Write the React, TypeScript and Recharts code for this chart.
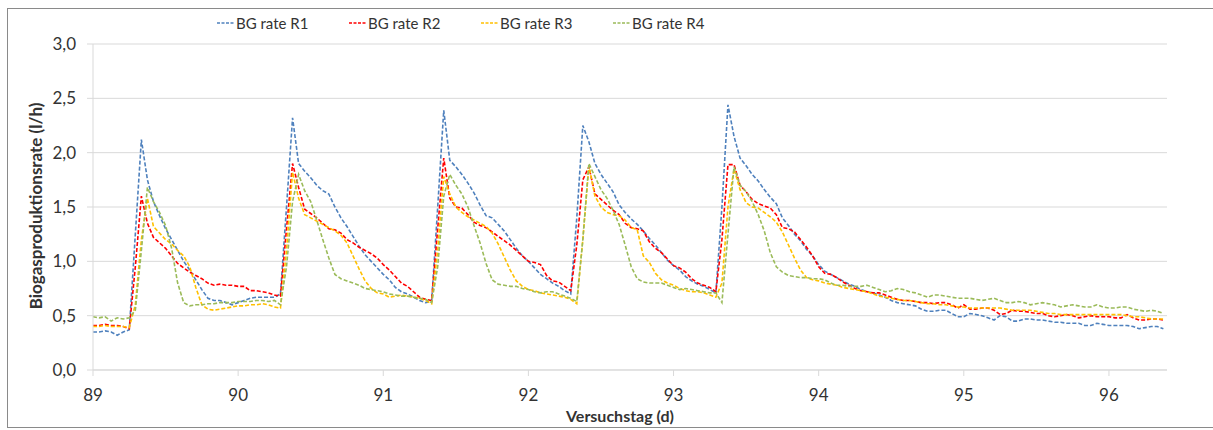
import React from 'react';
import { LineChart, Line, XAxis, YAxis, CartesianGrid } from 'recharts';

const seriesNames = ['BG rate R1', 'BG rate R2', 'BG rate R3', 'BG rate R4'];
const seriesKeys = ['r1', 'r2', 'r3', 'r4'];
const seriesColors = ['#4F81BD', '#FF0000', '#FFC000', '#9BBB59'];
const xTicks = [89, 90, 91, 92, 93, 94, 95, 96];
const yTicks = [0, 0.5, 1, 1.5, 2, 2.5, 3];
const startDay = 89;
const samplesPerDay = 24;
const xTitle = 'Versuchstag (d)';
const yTitle = 'Biogasproduktionsrate (l/h)';

const r1 = [
  0.35, 0.35, 0.36, 0.35, 0.32, 0.35, 0.37, 1.25, 2.12, 1.75,
  1.55, 1.42, 1.30, 1.20, 1.10, 1.00, 0.92, 0.83, 0.74, 0.66,
  0.64, 0.64, 0.62, 0.60, 0.62, 0.64, 0.66, 0.67, 0.67, 0.67,
  0.67, 0.70, 1.50, 2.32, 1.90, 1.83, 1.77, 1.70, 1.65, 1.62,
  1.50, 1.40, 1.32, 1.23, 1.14, 1.06, 1.00, 0.94, 0.88, 0.83,
  0.76, 0.72, 0.70, 0.67, 0.64, 0.62, 0.63, 1.50, 2.39, 1.93,
  1.87, 1.80, 1.72, 1.63, 1.52, 1.42, 1.40, 1.34, 1.28, 1.20,
  1.12, 1.05, 1.00, 0.94, 0.88, 0.84, 0.80, 0.77, 0.73, 0.70,
  1.40, 2.25, 2.10, 1.90, 1.80, 1.72, 1.64, 1.52, 1.45, 1.39,
  1.34, 1.28, 1.21, 1.15, 1.08, 1.01, 0.96, 0.92, 0.86, 0.82,
  0.79, 0.77, 0.74, 0.71, 1.50, 2.44, 2.15, 1.95, 1.88, 1.80,
  1.74, 1.66, 1.59, 1.53, 1.40, 1.33, 1.25, 1.19, 1.11, 1.05,
  0.97, 0.91, 0.88, 0.85, 0.82, 0.79, 0.77, 0.74, 0.72, 0.71,
  0.69, 0.67, 0.64, 0.62, 0.61, 0.60, 0.59, 0.56, 0.54, 0.54,
  0.55, 0.55, 0.52, 0.49, 0.49, 0.52, 0.51, 0.50, 0.48, 0.46,
  0.50, 0.49, 0.45, 0.45, 0.47, 0.47, 0.46, 0.46, 0.45, 0.44,
  0.44, 0.43, 0.43, 0.43, 0.41, 0.41, 0.43, 0.42, 0.41, 0.41,
  0.41, 0.41, 0.40, 0.38, 0.39, 0.40, 0.40, 0.38,
];

const r2 = [
  0.41, 0.41, 0.42, 0.41, 0.41, 0.40, 0.38, 0.95, 1.60, 1.35,
  1.22, 1.17, 1.12, 1.05, 0.98, 0.94, 0.90, 0.87, 0.84, 0.80,
  0.78, 0.79, 0.78, 0.78, 0.77, 0.77, 0.73, 0.73, 0.72, 0.71,
  0.69, 0.68, 1.30, 1.90, 1.68, 1.48, 1.44, 1.40, 1.35, 1.30,
  1.29, 1.26, 1.20, 1.17, 1.13, 1.10, 1.07, 1.03, 0.97, 0.92,
  0.86, 0.80, 0.77, 0.72, 0.67, 0.65, 0.64, 1.30, 1.95, 1.58,
  1.50, 1.49, 1.43, 1.36, 1.33, 1.31, 1.27, 1.23, 1.19, 1.15,
  1.10, 1.05, 1.00, 0.99, 0.97, 0.87, 0.82, 0.81, 0.77, 0.73,
  1.15, 1.75, 1.87, 1.62, 1.57, 1.52, 1.47, 1.43, 1.35, 1.31,
  1.30, 1.28, 1.18, 1.12, 1.08, 1.02, 0.96, 0.94, 0.90, 0.84,
  0.80, 0.78, 0.76, 0.72, 1.20, 1.89, 1.89, 1.70, 1.64, 1.57,
  1.53, 1.51, 1.49, 1.43, 1.31, 1.30, 1.27, 1.20, 1.13, 1.05,
  0.95, 0.89, 0.88, 0.85, 0.81, 0.78, 0.75, 0.73, 0.72, 0.71,
  0.71, 0.69, 0.67, 0.65, 0.64, 0.64, 0.63, 0.62, 0.62, 0.61,
  0.62, 0.62, 0.60, 0.57, 0.60, 0.56, 0.56, 0.57, 0.57, 0.55,
  0.51, 0.52, 0.55, 0.54, 0.54, 0.53, 0.52, 0.52, 0.50, 0.49,
  0.50, 0.51, 0.50, 0.48, 0.49, 0.50, 0.49, 0.49, 0.49, 0.48,
  0.48, 0.51, 0.48, 0.46, 0.46, 0.47, 0.47, 0.46,
];

const r3 = [
  0.40, 0.40, 0.41, 0.40, 0.40, 0.40, 0.39, 0.60, 1.20, 1.58,
  1.32, 1.26, 1.20, 1.16, 1.10, 1.05, 0.95, 0.76, 0.60, 0.56,
  0.55, 0.56, 0.57, 0.58, 0.59, 0.59, 0.60, 0.60, 0.61, 0.60,
  0.58, 0.57, 1.10, 1.82, 1.58, 1.43, 1.40, 1.37, 1.34, 1.31,
  1.28, 1.24, 1.17, 1.05, 0.93, 0.82, 0.75, 0.71, 0.70, 0.67,
  0.68, 0.69, 0.68, 0.67, 0.66, 0.64, 0.61, 1.10, 1.78, 1.62,
  1.50, 1.45, 1.41, 1.38, 1.35, 1.32, 1.26, 1.16, 1.04, 0.92,
  0.82, 0.77, 0.74, 0.73, 0.71, 0.70, 0.69, 0.68, 0.67, 0.65,
  0.61, 1.20, 1.88, 1.60, 1.50, 1.45, 1.43, 1.42, 1.38, 1.31,
  1.29, 1.05, 0.99, 0.89, 0.83, 0.80, 0.78, 0.75, 0.73, 0.72,
  0.72, 0.71, 0.69, 0.67, 0.80, 1.50, 1.85, 1.66, 1.54, 1.50,
  1.49, 1.45, 1.41, 1.36, 1.27, 1.15, 1.03, 0.92, 0.85, 0.83,
  0.82, 0.80, 0.79, 0.78, 0.76, 0.75, 0.74, 0.73, 0.72, 0.70,
  0.68, 0.67, 0.66, 0.65, 0.64, 0.64, 0.63, 0.62, 0.61, 0.61,
  0.60, 0.60, 0.59, 0.58, 0.58, 0.57, 0.57, 0.57, 0.57, 0.57,
  0.57, 0.56, 0.55, 0.55, 0.55, 0.55, 0.54, 0.53, 0.52, 0.52,
  0.51, 0.51, 0.51, 0.51, 0.51, 0.51, 0.51, 0.51, 0.51, 0.51,
  0.51, 0.50, 0.49, 0.49, 0.48, 0.47, 0.47, 0.47,
];

const r4 = [
  0.49, 0.48, 0.49, 0.45, 0.48, 0.47, 0.48, 0.55, 1.10, 1.68,
  1.55, 1.45, 1.33, 1.12, 0.80, 0.62, 0.59, 0.60, 0.60, 0.61,
  0.61, 0.62, 0.62, 0.62, 0.63, 0.63, 0.63, 0.64, 0.64, 0.63,
  0.64, 0.60, 0.95, 1.55, 1.80, 1.65, 1.55, 1.38, 1.20, 1.03,
  0.88, 0.84, 0.82, 0.80, 0.78, 0.75, 0.74, 0.73, 0.72, 0.70,
  0.69, 0.68, 0.68, 0.67, 0.66, 0.65, 0.62, 0.95, 1.60, 1.80,
  1.70, 1.62, 1.50, 1.33, 1.17, 0.98, 0.83, 0.79, 0.78, 0.77,
  0.77, 0.75, 0.74, 0.72, 0.71, 0.72, 0.72, 0.70, 0.68, 0.66,
  0.63, 1.20, 1.90, 1.78, 1.66, 1.58, 1.47, 1.34, 1.15, 0.95,
  0.84, 0.81, 0.80, 0.80, 0.80, 0.78, 0.76, 0.74, 0.75, 0.74,
  0.73, 0.72, 0.71, 0.71, 0.62, 1.25, 1.87, 1.70, 1.64, 1.55,
  1.43, 1.28, 1.08, 0.95, 0.90, 0.87, 0.86, 0.85, 0.85, 0.84,
  0.84, 0.83, 0.80, 0.78, 0.78, 0.77, 0.77, 0.77, 0.78, 0.76,
  0.74, 0.72, 0.73, 0.75, 0.74, 0.72, 0.71, 0.69, 0.67, 0.69,
  0.69, 0.68, 0.67, 0.66, 0.66, 0.66, 0.65, 0.64, 0.65, 0.66,
  0.64, 0.62, 0.62, 0.63, 0.62, 0.60, 0.61, 0.62, 0.61, 0.60,
  0.58, 0.59, 0.60, 0.59, 0.58, 0.58, 0.60, 0.58, 0.57, 0.57,
  0.58, 0.58, 0.56, 0.55, 0.54, 0.55, 0.54, 0.52,
];

const FONT = "Lato, 'Noto Sans', sans-serif";
const TEXT = '#333333';
const GRID = '#d9d9d9';

const fmt = (v: number) => v.toFixed(1).replace('.', ',');

export default function App() {
  const data = r1.map((v, i) => ({
    day: startDay + i / samplesPerDay,
    r1: v,
    r2: r2[i],
    r3: r3[i],
    r4: r4[i],
  }));

  return (
    <div
      style={{
        position: 'absolute',
        left: 0,
        top: 0,
        width: 1213,
        height: 430,
        overflow: 'hidden',
        background: '#ffffff',
        fontFamily: FONT,
      }}
    >
      <style>{'body{margin:0;}'}</style>
      <div
        style={{
          position: 'absolute',
          left: 7,
          top: 8,
          width: 1220,
          height: 420,
          border: '1px solid #8a8a8a',
          boxSizing: 'border-box',
        }}
      />
      <div style={{ position: 'absolute', left: 0, top: 0 }}>
        <LineChart
          width={1213}
          height={430}
          data={data}
          margin={{ top: 44, right: 46, bottom: 0, left: 0 }}
        >
          <CartesianGrid vertical={false} stroke={GRID} strokeWidth={1} />
          <XAxis
            dataKey="day"
            type="number"
            domain={[89, 96.4]}
            ticks={xTicks}
            allowDataOverflow
            height={60}
            tickSize={6}
            tickMargin={13}
            stroke={GRID}
            tick={{ fill: TEXT, fontSize: 17, fontFamily: FONT }}
          />
          <YAxis
            type="number"
            domain={[0, 3]}
            ticks={yTicks}
            width={93}
            tickSize={6}
            tickMargin={11}
            stroke={GRID}
            tickFormatter={fmt}
            tick={{ fill: TEXT, fontSize: 17, fontFamily: FONT }}
          />
          {seriesKeys.map((k, i) => (
            <Line
              key={k}
              dataKey={k}
              name={seriesNames[i]}
              type="linear"
              stroke={seriesColors[i]}
              strokeWidth={1.6}
              strokeDasharray="4 2"
              dot={false}
              activeDot={false}
              isAnimationActive={false}
            />
          ))}
        </LineChart>
      </div>
      {seriesNames.map((n, i) => (
        <div
          key={n}
          style={{
            position: 'absolute',
            left: 217 + i * 132,
            top: 13,
            height: 20,
            display: 'flex',
            alignItems: 'center',
            whiteSpace: 'nowrap',
          }}
        >
          <svg width={18} height={4} style={{ display: 'block' }}>
            <line x1={0} y1={2} x2={18} y2={2} stroke={seriesColors[i]} strokeWidth={1.5} strokeDasharray="3 1.5" />
          </svg>
          <span style={{ marginLeft: 1, fontSize: 15, color: TEXT }}>{n}</span>
        </div>
      ))}
      <div
        style={{
          position: 'absolute',
          left: 35,
          top: 206,
          transform: 'translate(-50%, -50%) rotate(-90deg)',
          whiteSpace: 'nowrap',
          fontWeight: 700,
          fontSize: 17,
          color: TEXT,
        }}
      >
        {yTitle}
      </div>
      <div
        style={{
          position: 'absolute',
          left: 620,
          top: 416,
          transform: 'translate(-50%, -50%)',
          whiteSpace: 'nowrap',
          fontWeight: 700,
          fontSize: 16,
          lineHeight: '18px',
          color: TEXT,
        }}
      >
        {xTitle}
      </div>
    </div>
  );
}
